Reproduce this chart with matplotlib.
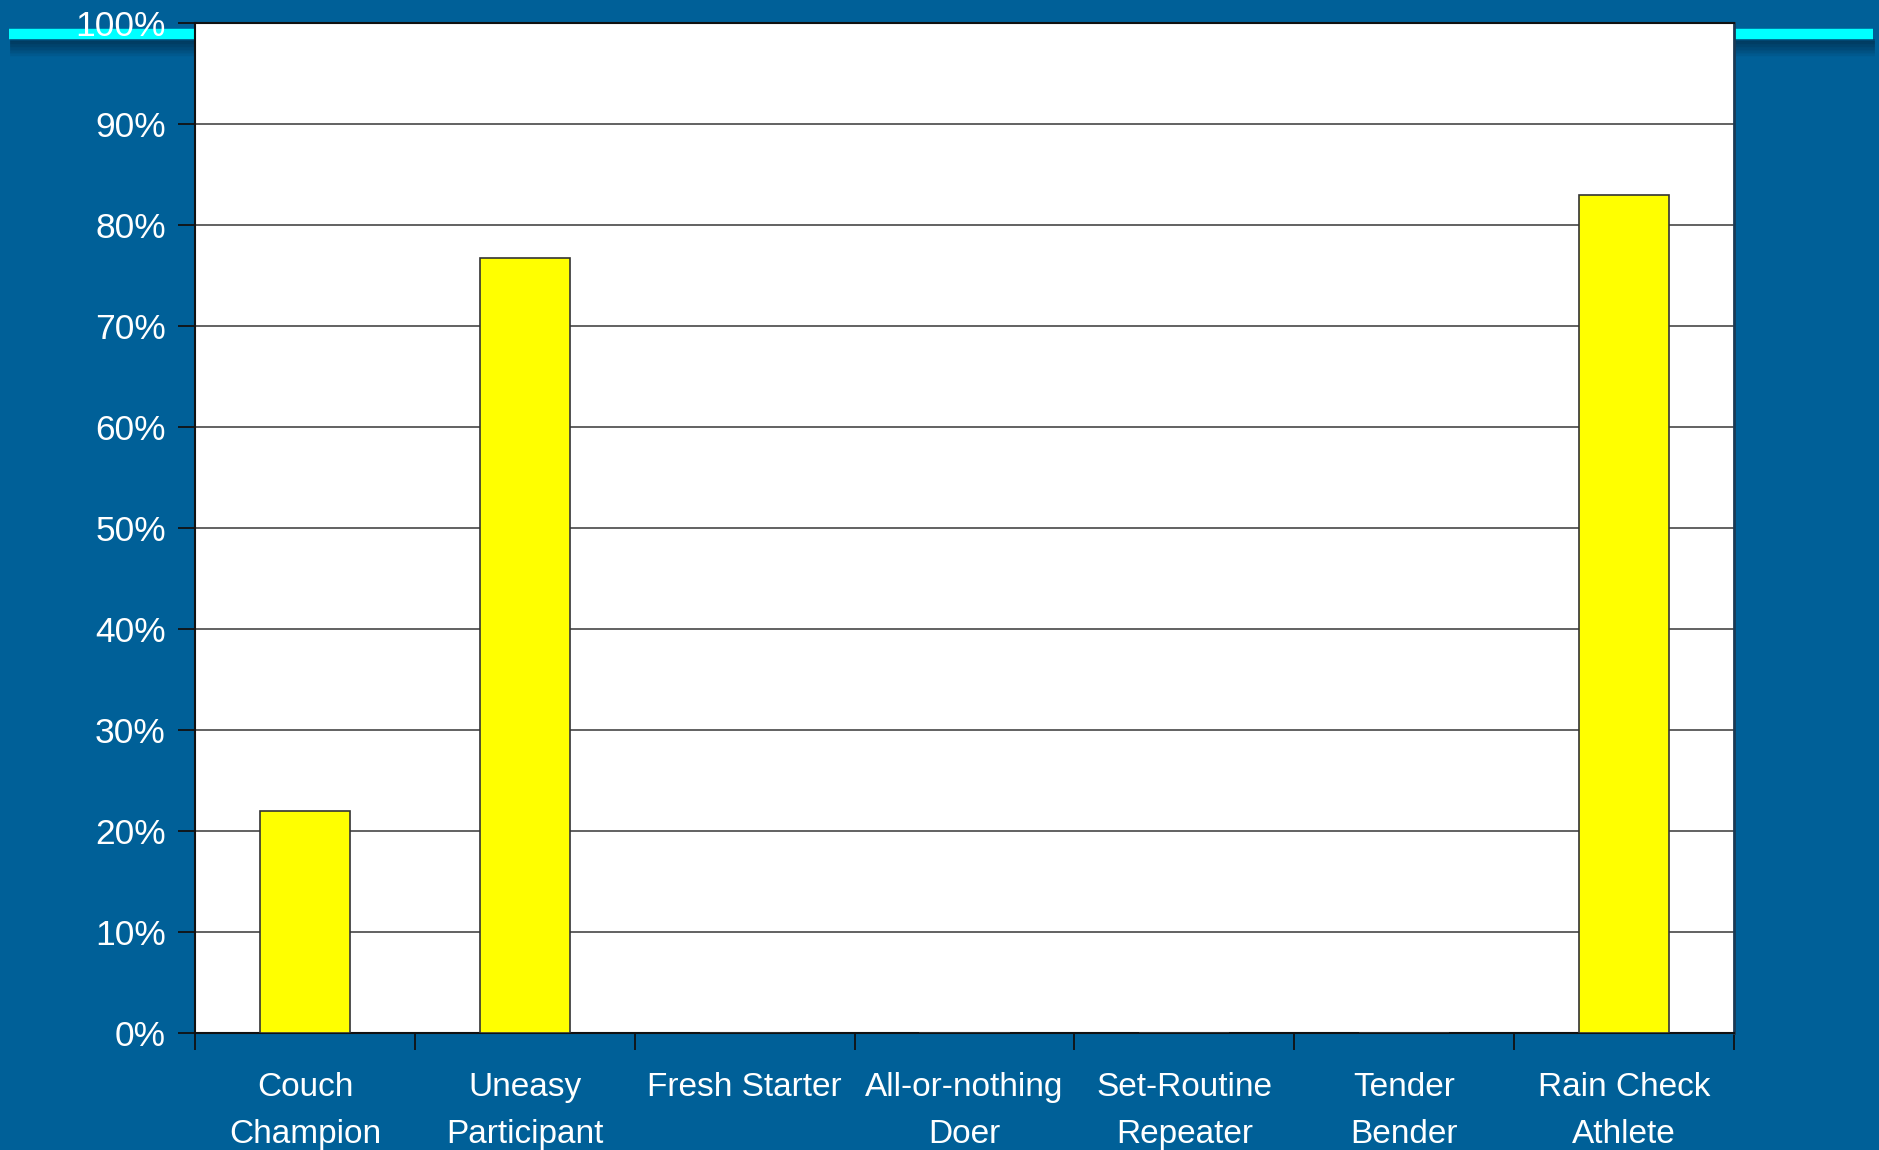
import matplotlib.pyplot as plt
import numpy as np
from matplotlib.lines import Line2D

# data
categories = ['Couch\nChampion', 'Uneasy\nParticipant', 'Fresh Starter',
              'All-or-nothing\nDoer', 'Set-Routine\nRepeater', 'Tender\nBender',
              'Rain Check\nAthlete']
share = [22.0, 76.7, 0, 0, 0, 0, 83.0]
y_ticks = [0, 10, 20, 30, 40, 50, 60, 70, 80, 90, 100]

bg = '#006098'
plt.rcParams['font.family'] = ['Liberation Sans', 'DejaVu Sans']

fig = plt.figure(figsize=(18.79, 11.5), dpi=100, facecolor=bg)
ax = fig.add_axes([0.1038, 0.1017, 0.819, 0.8783])
ax.set_zorder(2)

# cyan rule across the slide with a soft shadow under it
for i, a in enumerate(np.linspace(0.35, 0.0, 12)):
    fig.add_artist(Line2D([0.006, 0.997], [1 - (40 + i * 1.5) / 1150] * 2,
                          transform=fig.transFigure, color='#001a30',
                          lw=2, alpha=a, zorder=0))
fig.add_artist(Line2D([0.005, 0.997], [1 - 34 / 1150] * 2,
                      transform=fig.transFigure, color='#00ffff',
                      lw=7.5, solid_capstyle='butt', zorder=1))

x = np.arange(len(categories))
ax.bar(x, share, width=0.41, color='#ffff00', edgecolor='#333333',
       linewidth=1.2, zorder=3)

ax.set_xlim(-0.5, len(categories) - 0.5)
ax.set_ylim(0, 100)
ax.set_facecolor('white')
ax.set_yticks(y_ticks)
ax.set_yticklabels([f'{v}%' for v in y_ticks])
ax.yaxis.grid(True, color='#555555', lw=1.3, zorder=1)
ax.set_axisbelow(True)

ax.set_xticks(x)
ax.set_xticklabels(categories, linespacing=1.65)
ax.set_xticks(np.arange(-0.5, len(categories)), minor=True)
ax.tick_params(axis='x', which='major', length=0, pad=28,
               labelsize=24, labelcolor='white')
ax.tick_params(axis='x', which='minor', length=12, width=1.3,
               color='#111111', direction='out')
ax.tick_params(axis='y', length=12, width=1.3, color='#111111',
               pad=9, labelsize=25.5, labelcolor='white')

for side in ['left', 'bottom', 'top']:
    ax.spines[side].set_color('#111111')
    ax.spines[side].set_linewidth(1.5)
ax.spines['right'].set_color('#1a3a55')
ax.spines['right'].set_linewidth(2)

fig.savefig('out.png', dpi=100, facecolor=bg)
